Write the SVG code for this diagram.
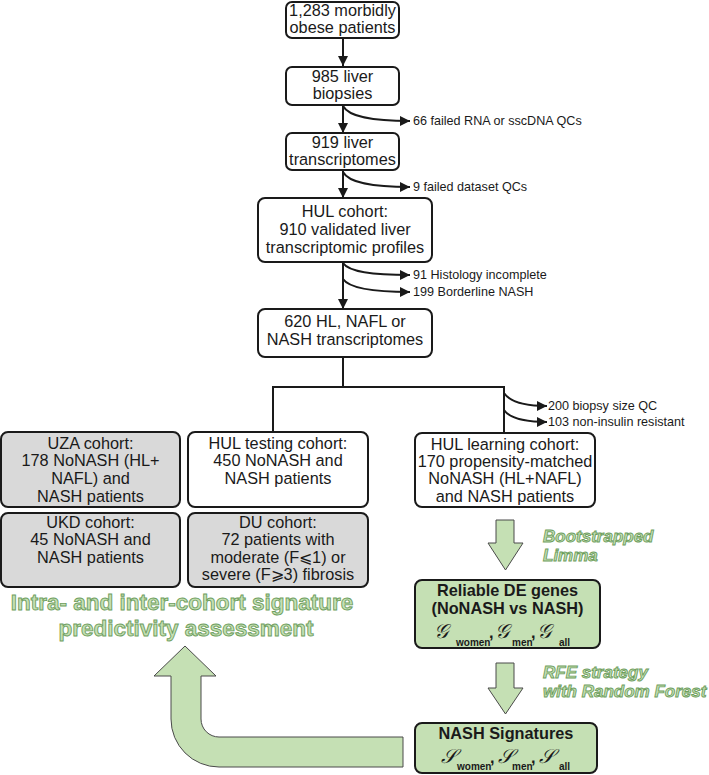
<svg xmlns="http://www.w3.org/2000/svg" width="709" height="775" viewBox="0 0 709 775">
<defs>
<marker id="ah" viewBox="0 0 10 10" refX="10" refY="5" markerWidth="10" markerHeight="10" markerUnits="userSpaceOnUse" orient="auto">
<path d="M0,0 L10,5 L0,10 z" fill="#1a1a1a"/>
</marker>
<style>
.box{fill:#fff;stroke:#1a1a1a;stroke-width:2}
.gray{fill:#d9d9d9}
.green{fill:#c5e0b4}
.t{font-family:"Liberation Sans",Arial,sans-serif;font-size:16.3px;fill:#1a1a1a;text-anchor:middle}
.b{font-weight:bold}
.s{font-family:"Liberation Sans",Arial,sans-serif;font-size:12.6px;fill:#1a1a1a}
.ln{fill:none;stroke:#1a1a1a;stroke-width:2}
.br{fill:none;stroke:#1a1a1a;stroke-width:2}
.ga{fill:#c5e0b4;stroke:#4a4a4a;stroke-width:1}
.gt{font-family:"Liberation Sans",Arial,sans-serif;font-weight:bold;fill:#c5e0b4;stroke:#6e9e5e;stroke-width:0.9}
.it{font-style:italic;font-size:17px}
.scr{font-family:"DejaVu Sans","Noto Sans",serif;font-style:italic;font-size:20px;font-weight:normal}
.sub{font-family:"Liberation Sans",Arial,sans-serif;font-size:10px;font-weight:bold}
</style>
</defs>

<g id="connectors">
<path class="ln" d="M343,38 V66" marker-end="url(#ah)"/>
<path class="ln" d="M343,105 V133" marker-end="url(#ah)"/>
<path class="ln" d="M343,170 V198" marker-end="url(#ah)"/>
<path class="ln" d="M343,262 V309" marker-end="url(#ah)"/>
<path class="br" d="M343,106 C349,117 372,121 410,121" marker-end="url(#ah)"/>
<path class="br" d="M343,172 C349,183 372,187 410,187" marker-end="url(#ah)"/>
<path class="br" d="M343,263 C349,272 372,275 410,275" marker-end="url(#ah)"/>
<path class="br" d="M343,279 C349,288 372,292 410,292" marker-end="url(#ah)"/>
<path class="ln" d="M343,357 V387 M273,387 H504 M273,386 V432 M504,386 V433"/>
<path class="br" d="M504,393 C510,402 525,406 547,406" marker-end="url(#ah)"/>
<path class="br" d="M504,410 C510,419 525,422 547,422" marker-end="url(#ah)"/>
</g>

<g id="exclusion-labels">
<text class="s" x="413" y="125">66 failed RNA or sscDNA QCs</text>
<text class="s" x="413" y="191">9 failed dataset QCs</text>
<text class="s" x="413" y="279">91 Histology incomplete</text>
<text class="s" x="413" y="296">199 Borderline NASH</text>
<text class="s" x="548" y="410">200 biopsy size QC</text>
<text class="s" x="548" y="426">103 non-insulin resistant</text>
</g>

<g id="n1">
<rect class="box" x="286" y="2" width="113" height="36" rx="6"/>
<text class="t" x="342.5" y="16">1,283 morbidly</text>
<text class="t" x="342.5" y="33">obese patients</text>
</g>
<g id="n2">
<rect class="box" x="286" y="67" width="113" height="38" rx="6"/>
<text class="t" x="342.5" y="82">985 liver</text>
<text class="t" x="342.5" y="99">biopsies</text>
</g>
<g id="n3">
<rect class="box" x="286" y="133" width="113" height="37" rx="6"/>
<text class="t" x="342.5" y="148">919 liver</text>
<text class="t" x="342.5" y="165">transcriptomes</text>
</g>
<g id="n4">
<rect class="box" x="258" y="198" width="174" height="64" rx="7"/>
<text class="t" x="345" y="217">HUL cohort:</text>
<text class="t" x="345" y="235">910 validated liver</text>
<text class="t" x="345" y="253">transcriptomic profiles</text>
</g>
<g id="n5">
<rect class="box" x="258" y="309" width="174" height="48" rx="7"/>
<text class="t" x="345" y="327">620 HL, NAFL or</text>
<text class="t" x="345" y="345">NASH transcriptomes</text>
</g>
<g id="n6">
<rect class="box gray" x="1" y="432" width="179" height="75" rx="7"/>
<text class="t" x="90.5" y="449">UZA cohort:</text>
<text class="t" x="90.5" y="466">178 NoNASH (HL+</text>
<text class="t" x="90.5" y="484">NAFL) and</text>
<text class="t" x="90.5" y="502">NASH patients</text>
</g>
<g id="n7">
<rect class="box" x="188" y="432" width="180" height="75" rx="7"/>
<text class="t" x="278" y="449">HUL testing cohort:</text>
<text class="t" x="278" y="466">450 NoNASH and</text>
<text class="t" x="278" y="484">NASH patients</text>
</g>
<g id="n8">
<rect class="box" x="415" y="433" width="180" height="74" rx="7"/>
<text class="t" x="505" y="450">HUL learning cohort:</text>
<text class="t" x="505" y="467">170 propensity-matched</text>
<text class="t" x="505" y="484">NoNASH (HL+NAFL)</text>
<text class="t" x="505" y="502">and NASH patients</text>
</g>
<g id="n9">
<rect class="box gray" x="1" y="513" width="179" height="74" rx="7"/>
<text class="t" x="90.5" y="528">UKD cohort:</text>
<text class="t" x="90.5" y="545">45 NoNASH and</text>
<text class="t" x="90.5" y="563">NASH patients</text>
</g>
<g id="n10">
<rect class="box gray" x="188" y="513" width="180" height="74" rx="7"/>
<text class="t" x="278" y="528">DU cohort:</text>
<text class="t" x="278" y="545">72 patients with</text>
<text class="t" x="278" y="563">moderate (F⩽1) or</text>
<text class="t" x="278" y="580">severe (F⩾3) fibrosis</text>
</g>

<g id="assessment-label">
<text class="gt" x="182" y="610" font-size="22.5" text-anchor="middle">Intra- and inter-cohort signature</text>
<text class="gt" x="186" y="636" font-size="22.5" text-anchor="middle">predictivity assessment</text>
</g>

<g id="green-arrows">
<path class="ga" d="M496,520 H514 V543 H523 L505.5,570 L488,543 H496 Z"/>
<path class="ga" d="M496,663 H514 V688 H523 L505.5,714 L488,688 H496 Z"/>
<path class="ga" d="M403,737 V767 H219 A48,48 0 0 1 171,719 V676 H154 L185,646 L216,676 H201 V719 A18,18 0 0 0 219,737 Z"/>
<text class="gt it" x="543" y="542">Bootstrapped</text>
<text class="gt it" x="543" y="561">Limma</text>
<text class="gt it" x="543" y="678">RFE strategy</text>
<text class="gt it" x="543" y="697">with Random Forest</text>
</g>

<g id="n11">
<rect class="box green" x="415" y="580" width="185" height="68" rx="7"/>
<text class="t b" x="507.5" y="596">Reliable DE genes</text>
<text class="t b" x="507.5" y="614">(NoNASH vs NASH)</text>
<text class="t b" style="text-anchor:start" y="638"><tspan class="scr" x="434">𝒢</tspan><tspan class="sub" x="456" y="646">women</tspan><tspan x="489" y="638">,</tspan><tspan class="scr" x="495">𝒢</tspan><tspan class="sub" x="512" y="646">men</tspan><tspan x="531" y="638">,</tspan><tspan class="scr" x="537">𝒢</tspan><tspan class="sub" x="559" y="646">all</tspan></text>
</g>
<g id="n12">
<rect class="box green" x="415" y="723" width="182" height="50" rx="7"/>
<text class="t b" x="506" y="739">NASH Signatures</text>
<text class="t b" style="text-anchor:start" y="763"><tspan class="scr" x="441">𝒮</tspan><tspan class="sub" x="457" y="770">women</tspan><tspan x="490" y="763">,</tspan><tspan class="scr" x="498">𝒮</tspan><tspan class="sub" x="512" y="770">men</tspan><tspan x="531" y="763">,</tspan><tspan class="scr" x="539">𝒮</tspan><tspan class="sub" x="559" y="770">all</tspan></text>
</g>
</svg>
